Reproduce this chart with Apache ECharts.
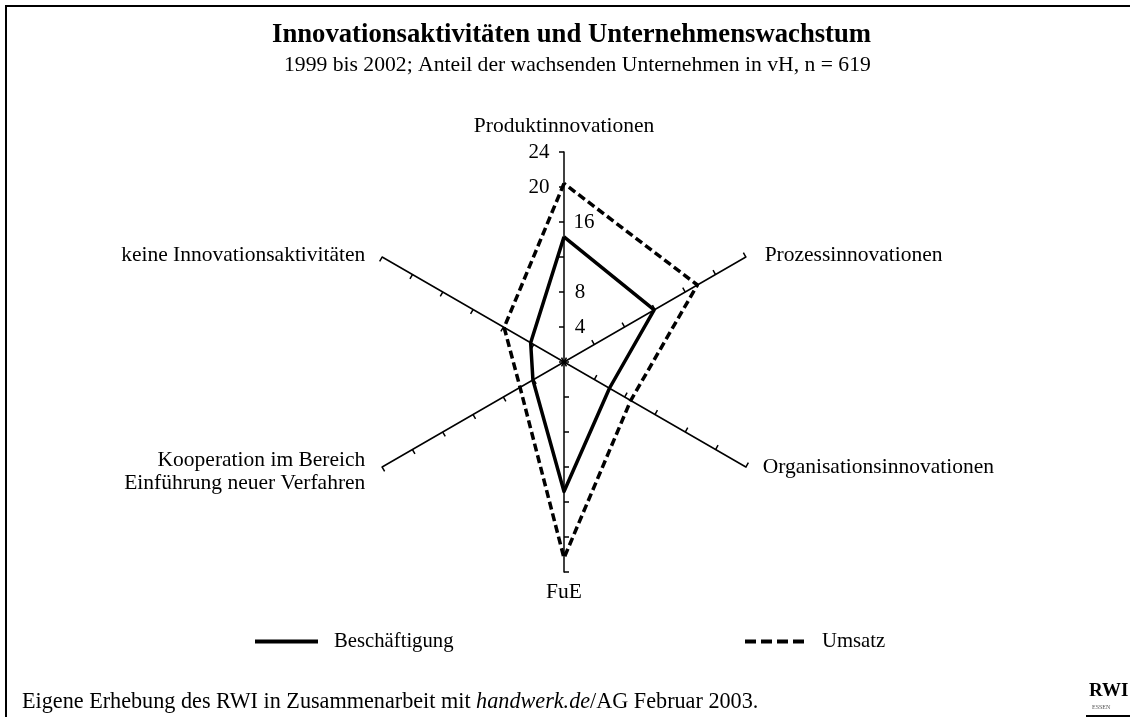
<!DOCTYPE html>
<html>
<head>
<meta charset="utf-8">
<script src="https://cdn.jsdelivr.net/npm/echarts@6/dist/echarts.min.js"></script>
<style>
  html, body { margin: 0; padding: 0; background: #fff; }
  #chart { width: 1130px; height: 717px; }
</style>
</head>
<body>
<div id="chart"></div>
<script>
// Achsen (gegen den Uhrzeigersinn ab oben)
const indicators = [
  "Produktinnovationen",
  "keine Innovationsaktivitäten",
  "Kooperation im Bereich\nEinführung neuer Verfahren",
  "FuE",
  "Organisationsinnovationen",
  "Prozessinnovationen"
];
const beschaeftigung = [14.3, 4.4, 4.1, 14.8, 6.0, 11.9];
const umsatz = [20.4, 7.9, 5.8, 22.4, 8.8, 17.6];
const axisMax = 24;
const hiddenTicks = [0, 12];

const font = "Liberation Serif";
// rich-Stil je Achsenbeschriftung
const nameStyleKey = {
  "Produktinnovationen": "pd",
  "keine Innovationsaktivitäten": "ke",
  "Kooperation im Bereich\nEinführung neuer Verfahren": "ko",
  "FuE": "fu",
  "Organisationsinnovationen": "or",
  "Prozessinnovationen": "pr"
};
const nameSize = 21.5;

const chart = echarts.init(document.getElementById("chart"));

const option = {
  backgroundColor: "#fff",
  animation: false,
  title: [
    {
      text: "Innovationsaktivitäten und Unternehmenswachstum",
      left: 272,
      top: 22,
      padding: 0,
      textStyle: { fontFamily: font, fontSize: 26.7, fontWeight: "bold", color: "#000" }
    },
    {
      text: "1999 bis 2002; Anteil der wachsenden Unternehmen in vH, n = 619",
      left: 284,
      top: 54,
      padding: 0,
      textStyle: { fontFamily: font, fontSize: 21.65, fontWeight: "normal", color: "#000" }
    },
    {
      text: "{n|Eigene Erhebung des RWI in Zusammenarbeit mit }{i|handwerk.de}{n|/AG Februar 2003.}",
      left: 22,
      top: 691,
      padding: 0,
      textStyle: {
        fontWeight: "normal",
        rich: {
          n: { fontFamily: font, fontSize: 22.2, fontWeight: "normal", color: "#000" },
          i: { fontFamily: font, fontSize: 22.2, fontWeight: "normal", fontStyle: "italic", color: "#000" }
        }
      }
    }
  ],
  legend: [
    {
      left: 250,
      top: 626,
      itemWidth: 63,
      itemHeight: 4,
      data: [{ name: "Beschäftigung", icon: "rect" }],
      itemStyle: { color: "#000", borderWidth: 0 },
      textStyle: { fontFamily: font, fontSize: 20.7, color: "#000", padding: [0, 0, 0, 11] },
      selectedMode: false
    },
    {
      left: 740,
      top: 626,
      itemWidth: 61,
      itemHeight: 4,
      data: [{
        name: "Umsatz",
        icon: "path://M0,0h11v4h-11z M16,0h11v4h-11z M32,0h11v4h-11z M48,0h11v4h-11z"
      }],
      itemStyle: { color: "#000", borderWidth: 0 },
      textStyle: { fontFamily: font, fontSize: 20.7, color: "#000", padding: [0, 0, 0, 12] },
      selectedMode: false
    }
  ],
  radar: {
    center: [564, 362],
    radius: 210,
    startAngle: 90,
    shape: "polygon",
    splitNumber: 6,
    nameGap: 9,
    indicator: indicators.map((name, i) => {
      const ind = { name: name, min: 0, max: axisMax };
      if (i === 0) ind.axisLabel = { show: true };
      return ind;
    }),
    axisName: {
      color: "#000",
      fontFamily: font,
      fontSize: nameSize,
      formatter: (name) =>
        name.split("\n").map((line) => "{" + nameStyleKey[name] + "|" + line + "}").join("\n"),
      rich: {
        pd: { fontFamily: font, fontSize: nameSize, color: "#000", padding: [0, 0, 6, 0] },
        pr: { fontFamily: font, fontSize: nameSize, color: "#000", padding: [5, 0, 0, 11] },
        or: { fontFamily: font, fontSize: nameSize, color: "#000", padding: [0, 0, 8, 9] },
        fu: { fontFamily: font, fontSize: nameSize, color: "#000" },
        ke: { fontFamily: font, fontSize: nameSize, color: "#000", padding: [5, 9, 0, 0] },
        ko: { fontFamily: font, fontSize: nameSize, color: "#000", lineHeight: 23, padding: [0, 9, 0, 0] }
      }
    },
    axisLine: { show: true, lineStyle: { color: "#000", width: 1.5 } },
    axisTick: { show: true, length: 5, lineStyle: { color: "#000", width: 1.5 } },
    axisLabel: {
      show: false,
      margin: 0,
      align: "center",
      verticalAlign: "middle",
      formatter: (v) => {
        if (hiddenTicks.indexOf(v) >= 0) return "";
        if (v >= 20) return "{l|" + v + "}";
        if (v >= 10) return "{r|" + v + "}";
        return "{s|" + v + "}";
      },
      rich: {
        l: { fontFamily: font, fontSize: 21, color: "#000", padding: [0, 50, 0, 0] },
        r: { fontFamily: font, fontSize: 21, color: "#000", padding: [0, 0, 0, 40] },
        s: { fontFamily: font, fontSize: 21, color: "#000", padding: [0, 0, 0, 32] }
      }
    },
    splitLine: { show: false },
    splitArea: { show: false }
  },
  graphic: [
    { type: "rect", shape: { x: 5, y: 5, width: 1125, height: 2 }, style: { fill: "#000" } },
    { type: "rect", shape: { x: 5, y: 5, width: 2, height: 712 }, style: { fill: "#000" } },
    {
      type: "text", left: 1089, top: 682,
      style: { text: "RWI", fontFamily: font, fontSize: 19, fontWeight: "bold", fill: "#000" }
    },
    {
      type: "text", left: 1092, top: 704,
      style: { text: "ESSEN", fontFamily: font, fontSize: 6, fill: "#555" }
    },
    { type: "rect", shape: { x: 1086, y: 715, width: 44, height: 2 }, style: { fill: "#000" } }
  ],
  series: [
    {
      type: "radar",
      symbol: "none",
      color: "#000",
      data: [
        {
          name: "Beschäftigung",
          value: beschaeftigung,
          lineStyle: { color: "#000", width: 3.5, type: "solid" }
        },
        {
          name: "Umsatz",
          value: umsatz,
          lineStyle: { color: "#000", width: 3.5, type: [8, 4] }
        }
      ]
    }
  ]
};

chart.setOption(option);
</script>
</body>
</html>
